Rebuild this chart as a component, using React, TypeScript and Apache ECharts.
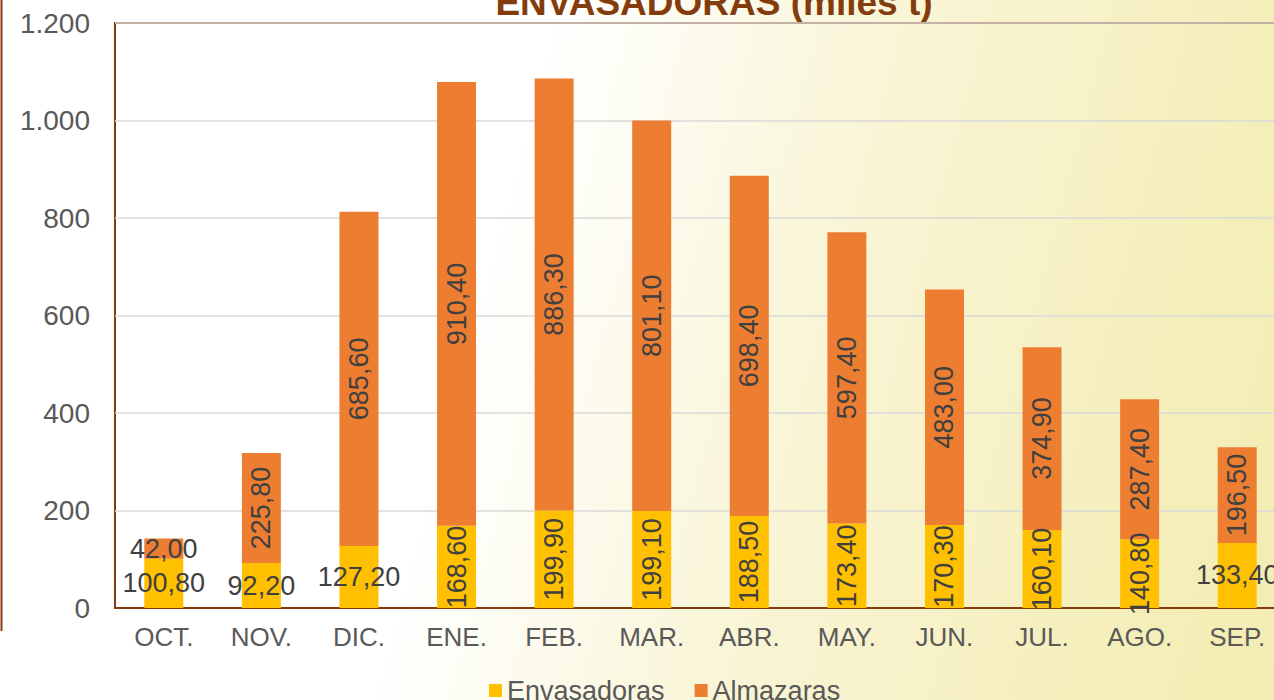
import React, { useEffect, useRef } from "react";
import * as echarts from "echarts";

const months = ["OCT.", "NOV.", "DIC.", "ENE.", "FEB.", "MAR.", "ABR.", "MAY.", "JUN.", "JUL.", "AGO.", "SEP."];
const envasadoras = [100.8, 92.2, 127.2, 168.6, 199.9, 199.1, 188.5, 173.4, 170.3, 160.1, 140.8, 133.4];
const almazaras = [42.0, 225.8, 685.6, 910.4, 886.3, 801.1, 698.4, 597.4, 483.0, 374.9, 287.4, 196.5];
const envHorizontal = [true, true, true, false, false, false, false, false, false, false, false, true];
const almHorizontal = [true, false, false, false, false, false, false, false, false, false, false, false];
const yTicks = [0, 200, 400, 600, 800, 1000, 1200];

const FONT = "'Liberation Sans', Arial, sans-serif";
const BROWN = "#843C0C";

const fmt = (v: number) => v.toFixed(2).replace(".", ",");
const fmtThousands = (v: number) => String(v).replace(/\B(?=(\d{3})+(?!\d))/g, ".");

export default function App() {
  const ref = useRef<HTMLDivElement>(null);
  useEffect(() => {
    if (!ref.current) return;
    const chart = echarts.init(ref.current, undefined, { renderer: "svg" });
    const labelStyle = { color: "#404040", fontSize: 27, fontFamily: FONT };
    const mk = (vals: number[], horiz: boolean[]) =>
      vals.map((v, i) => ({
        value: v,
        label: horiz[i]
          ? { show: true, position: "inside", rotate: 0, formatter: (p: any) => fmt(p.value), ...labelStyle }
          : { show: true, position: "inside", rotate: 90, align: "center", verticalAlign: "middle", formatter: (p: any) => fmt(p.value), ...labelStyle },
      }));
    chart.setOption({
      animation: false,
      textStyle: { fontFamily: FONT },
      graphic: [
        {
          type: "text",
          x: 714,
          y: 2,
          style: {
            text: "ENVASADORAS (miles t)",
            fill: BROWN,
            font: `bold 37px ${FONT}`,
            align: "center",
            verticalAlign: "middle",
          },
        },
        {
          type: "line",
          shape: { x1: 1.5, y1: -5, x2: 1.5, y2: 631 },
          style: { stroke: BROWN, lineWidth: 2 },
        },
      ],
      legend: {
        left: 489,
        top: 677,
        padding: 0,
        itemWidth: 13,
        itemHeight: 13,
        itemGap: 30,
        icon: "rect",
        textStyle: { color: "#595959", fontSize: 27, fontFamily: FONT },
        data: ["Envasadoras", "Almazaras"],
      },
      grid: {
        left: 115,
        top: 23,
        bottom: 92,
        right: 0,
        show: true,
        borderColor: BROWN,
        borderWidth: 2,
        backgroundColor: "transparent",
      },
      xAxis: {
        type: "category",
        data: months,
        axisLine: { show: true, lineStyle: { color: BROWN, width: 2 } },
        axisTick: { show: false },
        axisLabel: { color: "#595959", fontSize: 26, margin: 16, fontFamily: FONT },
      },
      yAxis: {
        type: "value",
        min: yTicks[0],
        max: yTicks[yTicks.length - 1],
        interval: 200,
        axisLine: { show: false },
        axisTick: { show: false },
        splitLine: { lineStyle: { color: "#D9D9D9", width: 1.5 } },
        axisLabel: { color: "#595959", fontSize: 28, margin: 25, fontFamily: FONT, formatter: (v: number) => fmtThousands(v) },
      },
      series: [
        {
          name: "Envasadoras",
          type: "bar",
          stack: "total",
          barWidth: 39,
          itemStyle: { color: "#FFC000" },
          data: mk(envasadoras, envHorizontal),
        },
        {
          name: "Almazaras",
          type: "bar",
          stack: "total",
          barWidth: 39,
          itemStyle: { color: "#ED7D31" },
          data: mk(almazaras, almHorizontal),
        },
      ],
    });
    return () => chart.dispose();
  }, []);
  return (
    <div
      style={{
        position: "fixed",
        left: 0,
        top: 0,
        width: 1274,
        height: 700,
        overflow: "hidden",
        background: "linear-gradient(105deg, #FFFFFF 0%, #FFFFFF 38%, #F9F5D6 62%, #F5EFBD 85%, #F3ECB2 100%)",
      }}
    >
      <div ref={ref} style={{ width: 1286, height: 700 }} />
    </div>
  );
}
